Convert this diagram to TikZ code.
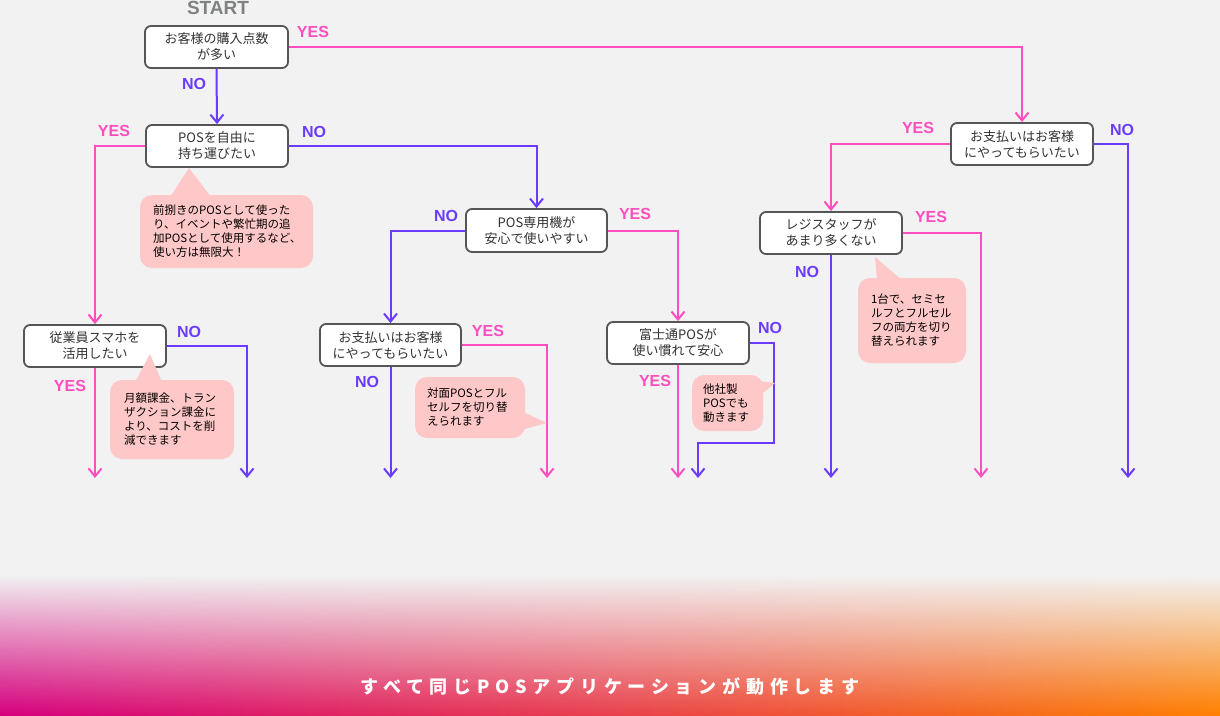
\documentclass[tikz,border=0pt]{standalone}
\usepackage{fontspec}
\setmainfont{Liberation Sans}
\newfontfamily\jp{Noto Sans CJK JP}
\usetikzlibrary{arrows.meta,fadings}
\definecolor{bgc}{HTML}{F2F2F2}
\definecolor{pinkc}{HTML}{FF4EC0}
\definecolor{purc}{HTML}{6A3CFF}
\definecolor{boxc}{HTML}{555555}
\definecolor{txtc}{HTML}{333333}
\definecolor{calc}{HTML}{FFC8C8}
\definecolor{startc}{HTML}{7F8282}
\definecolor{gmag}{HTML}{D6007E}
\definecolor{gmid}{HTML}{E9404C}
\definecolor{gora}{HTML}{FF8000}
\tikzfading[name=fadebottom, top color=transparent!0, bottom color=transparent!100]
\begin{document}
\begin{tikzpicture}[x=1pt,y=-1pt,
  box/.style={draw=boxc, line width=1.8pt, rounded corners=6pt, fill=white, inner sep=0pt,
    align=center, text=txtc, font=\jp\fontsize{13}{16}\selectfont,
    minimum width=142pt, minimum height=42pt},
  yesl/.style={text=pinkc, font=\bfseries\fontsize{16}{16}\selectfont, inner sep=0pt},
  nol/.style={text=purc, font=\bfseries\fontsize{16}{16}\selectfont, inner sep=0pt},
  tip/.style={-{Straight Barb[length=8pt,width=13pt]}},
  pline/.style={draw=pinkc, line width=2pt, tip},
  qline/.style={draw=purc, line width=2pt, tip},
  callout/.style={fill=calc, rounded corners=12pt, inner ysep=0pt, align=left, text=black,
    font=\jp\fontsize{11.5}{14}\selectfont},
  ptr/.style={fill=calc}
]
\useasboundingbox (0,0) rectangle (1220,715);
\fill[bgc] (0,0) rectangle (1220,715);
% bottom gradient band
\shade[left color=gmag, right color=gora, middle color=gmid] (0,575) rectangle (1220,715);
\begin{scope}
\clip (0,560) rectangle (1220,715);
\fill[bgc, path fading=fadebottom, fit fading=true] (-20,575) rectangle (1240,715);
\end{scope}
\node[text=white, font=\jp\bfseries\fontsize{18}{18}\selectfont\addfontfeatures{LetterSpace=32}] (banner) at (610,687) {すべて同じPOSアプリケーションが動作します};

% START
\node[text=startc, font=\bfseries\fontsize{19}{19}\selectfont, inner sep=0pt] (start) at (218,8) {START};

% boxes
\node[box, minimum width=143pt] (b1) at (216.5,47) {お客様の購入点数\\が多い};
\node[box] (b2) at (217,146) {POSを自由に\\持ち運びたい};
\node[box, minimum width=141pt, minimum height=43pt] (b3) at (536.5,230.5) {POS専用機が\\安心で使いやすい};
\node[box, minimum width=141pt] (b4) at (390.5,345) {お支払いはお客様\\にやってもらいたい};
\node[box] (b5) at (678,343) {富士通POSが\\使い慣れて安心};
\node[box] (b6) at (95,346) {従業員スマホを\\活用したい};
\node[box] (b7) at (831,233) {レジスタッフが\\あまり多くない};
\node[box] (b8) at (1022,144) {お支払いはお客様\\にやってもらいたい};

% free ends
\coordinate (e6y) at (95,478);
\coordinate (e6n) at (247,478);
\coordinate (e4n) at (390.5,478);
\coordinate (e4y) at (547,478);
\coordinate (e5y) at (678,478);
\coordinate (c5) at (774,443);
\coordinate (e5n) at (698,478);
\coordinate (e7n) at (831,478);
\coordinate (e7y) at (981,478);
\coordinate (e8n) at (1128,478);

% connectors
\draw[pline] (b1.east) -| (b8.north);
\draw[qline] (b1.south) -- (b2.north);
\draw[pline] (b2.west) -| (b6.north);
\draw[qline] (b2.east) -| (b3.north);
\draw[qline] (b3.west) -| (b4.north);
\draw[pline] (b3.east) -| (b5.north);
\draw[pline] (b6.south) -- (e6y);
\draw[qline] (b6.east) -| (e6n);
\draw[qline] (b4.south) -- (e4n);
\draw[pline] (b4.east) -| (e4y);
\draw[pline] (b5.south) -- (e5y);
\draw[qline] (b5.east) -| (c5) -| (e5n);
\draw[pline] (b8.west) -| (b7.north);
\draw[qline] (b8.east) -| (e8n);
\draw[qline] (b7.south) -- (e7n);
\draw[pline] (b7.east) -| (e7y);

% labels
\node[yesl] (l1) at (313,32) {YES};
\node[nol] (l2) at (194,84) {NO};
\node[yesl] (l3) at (114,131) {YES};
\node[nol] (l4) at (314,132) {NO};
\node[nol] (l5) at (446,216) {NO};
\node[yesl] (l6) at (635,214) {YES};
\node[nol] (l7) at (189,332) {NO};
\node[yesl] (l8) at (70,386) {YES};
\node[nol] (l9) at (367,382) {NO};
\node[yesl] (l10) at (488,331) {YES};
\node[nol] (l11) at (770,328) {NO};
\node[yesl] (l12) at (655,381) {YES};
\node[yesl] (l13) at (918,128) {YES};
\node[nol] (l14) at (1122,130) {NO};
\node[yesl] (l15) at (931,217) {YES};
\node[nol] (l16) at (807,272) {NO};

% callouts
\node[callout, inner xsep=13pt, text width=147pt, minimum height=73pt] (k1) at (226.5,231.5)
  {前捌きのPOSとして使った\\り、イベントや繁忙期の追\\加POSとして使用するなど、\\使い方は無限大！};
\fill[ptr] (170,197) -- (189,168) -- (211,197) -- cycle;

\node[callout, inner xsep=14pt, text width=96pt, minimum height=79pt] (k2) at (172,419.5)
  {月額課金、トラン\\ザクション課金に\\より、コストを削\\減できます};
\fill[ptr] (135,382) -- (150,354) -- (162,382) -- cycle;

\node[callout, inner xsep=12pt, text width=86pt, minimum height=61pt] (k3) at (470,407.5)
  {対面POSとフル\\セルフを切り替\\えられます};
\fill[ptr] (521,411) -- (547,423) -- (521,430) -- cycle;

\node[callout, inner xsep=11pt, text width=49pt, minimum height=56pt] (k4) at (727.5,403)
  {他社製\\POSでも\\動きます};
\fill[ptr] (758,381) -- (775,383) -- (758,397) -- cycle;

\node[callout, inner xsep=13pt, text width=82pt, minimum height=85pt] (k5) at (912,320.5)
  {1台で、セミセ\\ルフとフルセル\\フの両方を切り\\替えられます};
\fill[ptr] (877,281) -- (875,257) -- (903,281) -- cycle;
\end{tikzpicture}
\end{document}
